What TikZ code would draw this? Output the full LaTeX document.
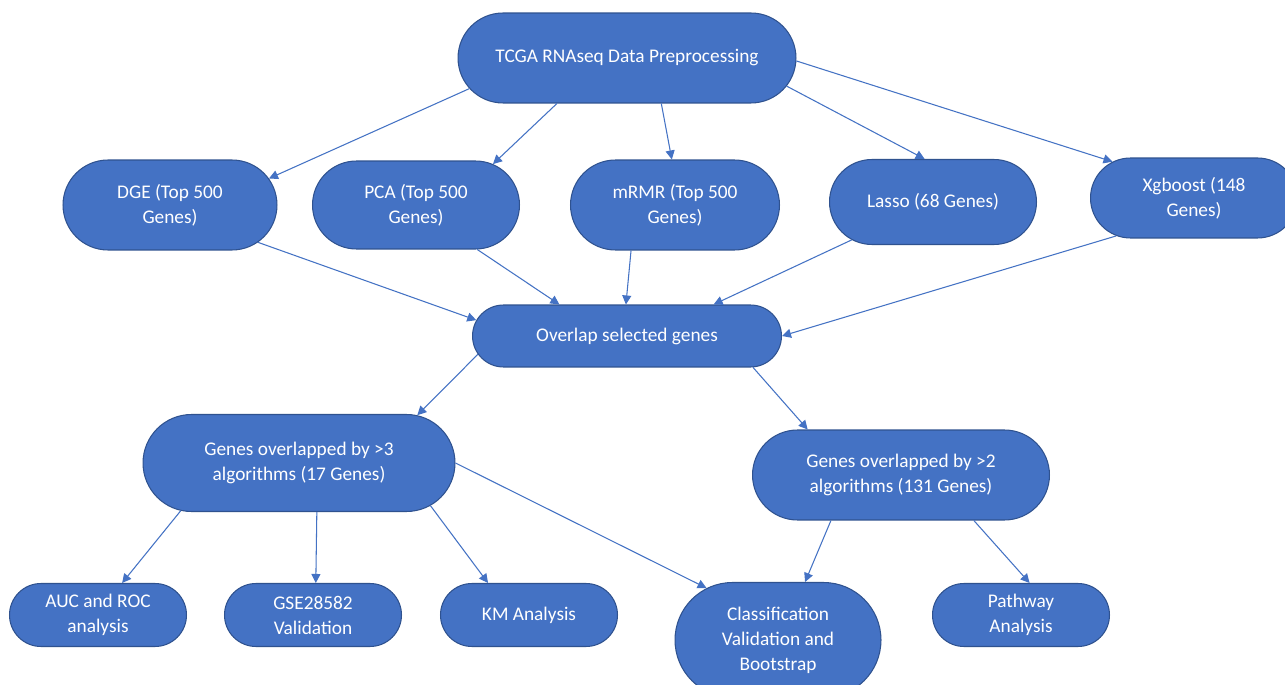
\documentclass[tikz,border=0pt]{standalone}
\usepackage{fontspec}
\setmainfont{Carlito}
\usetikzlibrary{shapes.misc, arrows.meta}
\definecolor{boxfill}{RGB}{68,114,196}
\definecolor{boxborder}{RGB}{47,82,143}
\tikzset{
    stadium/.style={rounded rectangle, draw=boxborder, fill=boxfill, line width=0.6pt,
        text=white, align=center, inner sep=0pt, font=\fontsize{11}{14.2}\selectfont},
    smallstadium/.style={stadium, minimum width=3.54cm, minimum height=1.26cm},
    arrow/.style={-{Triangle[length=1.8mm, width=1.8mm]}, draw=boxfill, line width=0.6pt}
}

\begin{document}
\begin{tikzpicture}[x=0.02cm, y=-0.02cm]
    \clip (0,0) rectangle (1285,685);
    \fill[white] (0,0) rectangle (1285,685);

    % top
    \node[stadium, minimum width=6.76cm, minimum height=1.8cm] (tcga) at (627,58) {TCGA RNAseq Data Preprocessing};

    % selection methods
    \node[stadium, minimum width=4.28cm, minimum height=1.8cm] (dge) at (170,205) {DGE (Top 500\\Genes)};
    \node[stadium, minimum width=4.14cm, minimum height=1.76cm] (pca) at (416,205) {PCA (Top 500\\Genes)};
    \node[stadium, minimum width=4.18cm, minimum height=1.8cm] (mrmr) at (675,205) {mRMR (Top 500\\Genes)};
    \node[stadium, minimum width=4.14cm, minimum height=1.7cm] (lasso) at (933,202) {Lasso (68 Genes)};
    \node[stadium, minimum width=4.14cm, minimum height=1.6cm] (xgb) at (1194,198) {Xgboost (148\\Genes)};

    \node[stadium, minimum width=6.18cm, minimum height=1.24cm] (overlap) at (627,336) {Overlap selected genes};

    \node[stadium, minimum width=6.24cm, minimum height=1.94cm] (over3) at (299,463) {Genes overlapped by >3\\algorithms (17 Genes)};
    \node[stadium, minimum width=5.94cm, minimum height=1.8cm] (over2) at (901,475) {Genes overlapped by >2\\algorithms (131 Genes)};

    % analyses
    \node[smallstadium] (aucroc) at (98,615) {AUC and ROC\\analysis};
    \node[smallstadium] (gse) at (313,615) {GSE28582\\Validation};
    \node[smallstadium] (km) at (529,615) {KM Analysis};
    \node[stadium, minimum width=4.12cm, minimum height=2.3cm] (classval) at (778,640) {Classification\\Validation and\\Bootstrap};
    \node[smallstadium] (pathway) at (1021,615) {Pathway\\Analysis};

    \draw[arrow] (tcga.191) -- (dge.15);
    \draw[arrow] (tcga.213) -- (pca.28);
    \draw[arrow] (tcga.-53) -- (mrmr.94);
    \draw[arrow] (tcga.-10) -- (lasso.101);
    \draw[arrow] (tcga.-1) -- (xgb.156);

    \draw[arrow] (dge.-23) -- (overlap.174);
    \draw[arrow] (pca.-36) -- (overlap.155);
    \draw[arrow] (mrmr.-134) -- (overlap.92);
    \draw[arrow] (lasso.205) -- (overlap.20);
    \draw[arrow] (xgb.206) -- (overlap.0);

    \draw[arrow] (overlap.187) -- (over3.22);
    \draw[arrow] (overlap.-14) -- (over2.154);

    \draw[arrow] (over3.202) -- (aucroc.53);
    \draw[arrow] (over3.-70) -- (gse.85);
    \draw[arrow] (over3.-18) -- (km.142);
    \draw[arrow] (over3.0) -- (classval.144);
    \draw[arrow] (over2.213) -- (classval.65);
    \draw[arrow] (over2.-32) -- (pathway.75);
\end{tikzpicture}
\end{document}
